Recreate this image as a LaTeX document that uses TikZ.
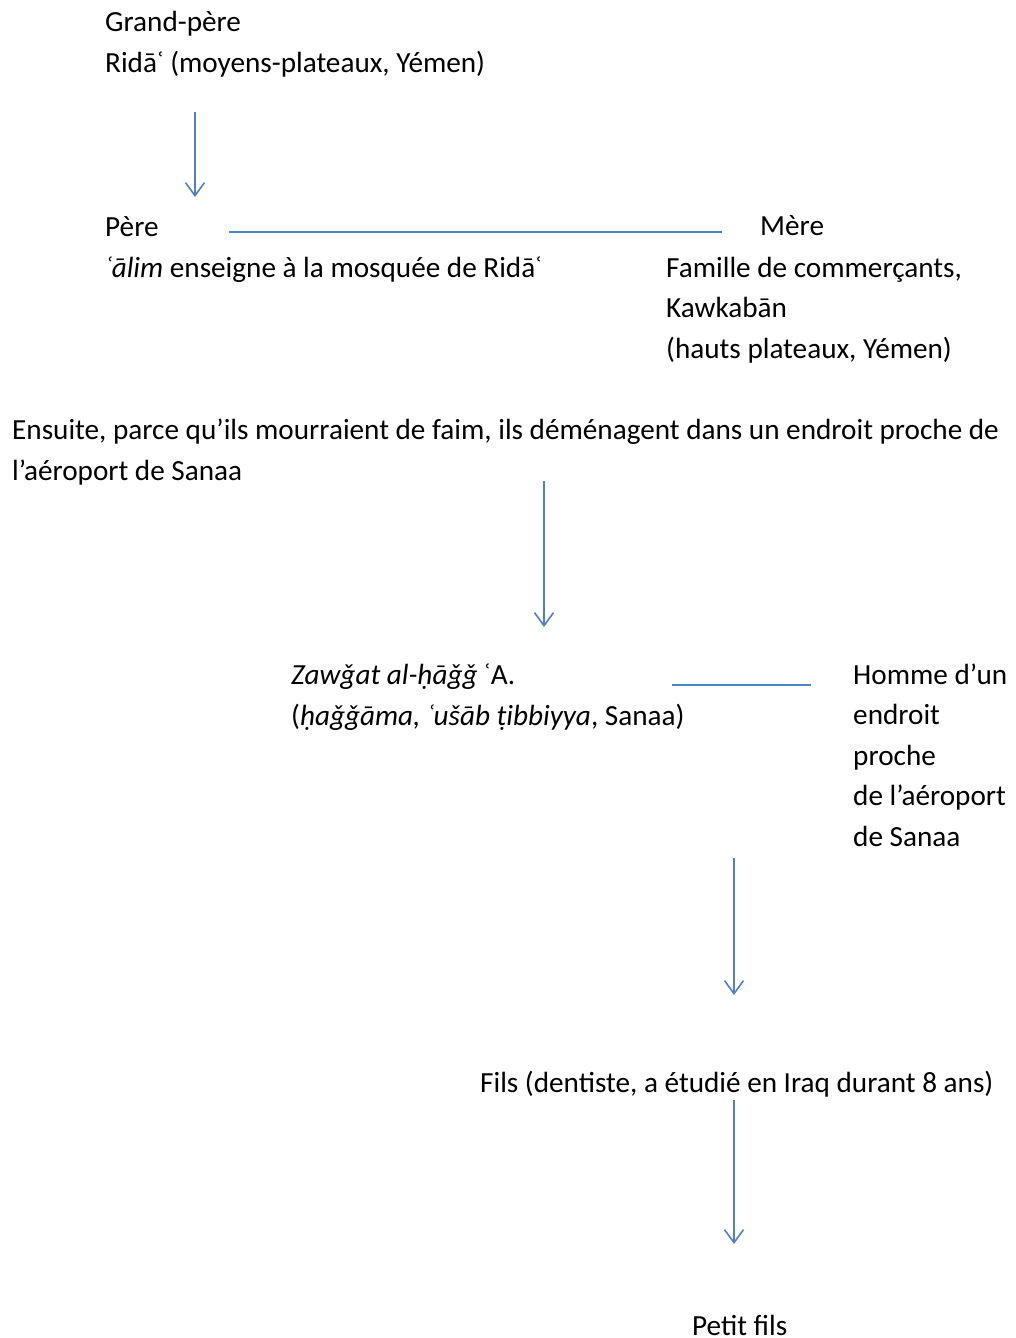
\documentclass[tikz,border=0pt]{standalone}
\usepackage{fontspec}
\setmainfont{Carlito}
\usetikzlibrary{arrows.meta,calc}
\definecolor{linkblue}{HTML}{4F81C4}
\begin{document}
\begin{tikzpicture}[x=1pt,y=-1pt,
  % base anchor of a multi-line label = baseline of its last line
  lbl/.style={anchor=base west,inner sep=0pt,align=left,font=\fontsize{29.2}{41}\selectfont},
  descent/.style={draw=linkblue,line width=1.6pt,-{Straight Barb[length=13pt,width=19pt,line width=1.6pt]}},
  union/.style={draw=linkblue,line width=1.6pt}]
\useasboundingbox[fill=white] (0,0) rectangle (1016,1338);

\node[lbl] (gp) at (105,73) {Grand-père\\Ridāʿ (moyens-plateaux, Yémen)};
\node[lbl] (pere) at (105,277) {Père\\\textit{ʿālim} enseigne à la mosquée de Ridāʿ};
\node[lbl] (mere) at (760,235) {Mère};
\node[lbl,font=\fontsize{29.2}{40.5}\selectfont] (merefam) at (666,358) {Famille de commerçants,\\Kawkabān\\(hauts plateaux, Yémen)};
\node[lbl] (ensuite) at (12,480) {Ensuite, parce qu’ils mourraient de faim, ils déménagent dans un endroit proche de\\l’aéroport de Sanaa};
\node[lbl] (zawga) at (291,725) {\textit{Zawǧat al-ḥāǧǧ} ʿA.\\(\textit{ḥaǧǧāma, ʿušāb ṭibbiyya}, Sanaa)};
\node[lbl,font=\fontsize{29.2}{40.5}\selectfont] (homme) at (853,846) {Homme d’un\\endroit\\proche\\de l’aéroport\\de Sanaa};
\node[lbl] (fils) at (480,1092) {Fils (dentiste, a étudié en Iraq durant 8 ans)};
\node[lbl] (petit) at (692,1335) {Petit fils};

% lineage arrows
\draw[descent] ($(gp.base west)+(90,39)$) -- ($(pere.base west)+(90,-80)$);
\draw[descent] ($(ensuite.base west)+(532,1)$) -- ($(zawga.base west)+(253,-98)$);
\draw[descent] ($(homme.base west)+(-119,12)$) -- ($(fils.base west)+(254,-97)$);
\draw[descent] ($(fils.base west)+(254,8)$) -- ($(petit.base west)+(42,-91)$);

% marriage lines
\draw[union] ($(pere.base west |- mere.base)+(124,-3)$) -- ($(mere.base west)+(-38,-3)$);
\draw[union] ($(zawga.base west)+(381,-40)$) -- ($(homme.base west)+(-42,-161)$);
\end{tikzpicture}
\end{document}
